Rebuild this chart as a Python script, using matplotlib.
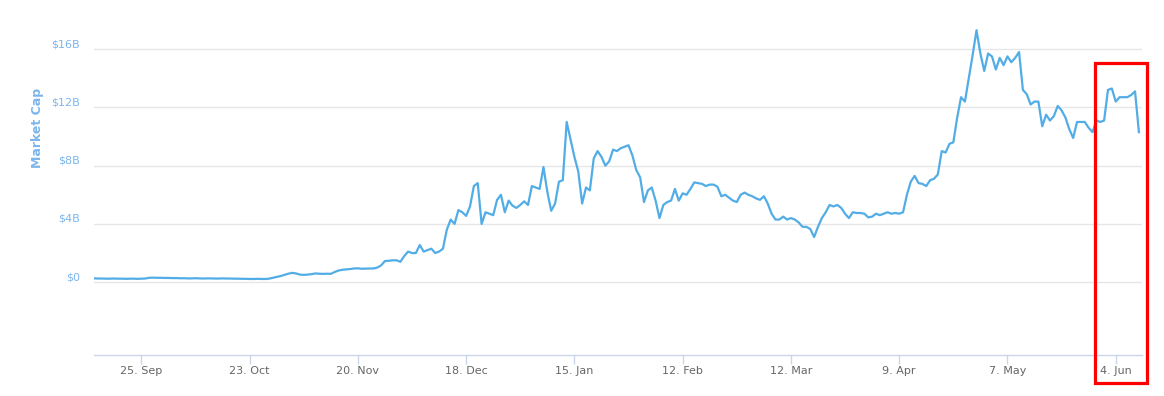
#market cap line chart (daily values) with a red highlight box

import pandas as pd
import numpy as np
from matplotlib import pyplot as plt
from matplotlib import transforms
from matplotlib.patches import Rectangle

#daily market cap in billion USD, starting 13 Sep 2017
start = "2017-09-13"
mcap = [
    0.26, 0.25, 0.25, 0.24, 0.24, 0.25, 0.24, 0.24, 0.23, 0.24,
    0.24, 0.23, 0.24, 0.25, 0.30, 0.31, 0.30, 0.30, 0.29, 0.29,
    0.28, 0.28, 0.27, 0.27, 0.26, 0.26, 0.27, 0.26, 0.25, 0.26,
    0.26, 0.25, 0.25, 0.26, 0.25, 0.25, 0.24, 0.24, 0.23, 0.23,
    0.22, 0.22, 0.23, 0.22, 0.22, 0.24, 0.30, 0.36, 0.42, 0.50,
    0.58, 0.64, 0.60, 0.52, 0.50, 0.52, 0.55, 0.60, 0.58, 0.57,
    0.58, 0.57, 0.70, 0.80, 0.85, 0.88, 0.90, 0.94, 0.95, 0.92,
    0.93, 0.94, 0.94, 1.00, 1.15, 1.45, 1.47, 1.50, 1.50, 1.40,
    1.80, 2.10, 2.00, 2.00, 2.55, 2.10, 2.20, 2.30, 2.00, 2.10,
    2.30, 3.60, 4.30, 4.00, 4.95, 4.80, 4.55, 5.20, 6.60, 6.80,
    4.00, 4.80, 4.70, 4.60, 5.65, 6.00, 4.80, 5.60, 5.25, 5.10,
    5.30, 5.55, 5.30, 6.60, 6.50, 6.40, 7.90, 6.20, 4.90, 5.40,
    6.90, 7.00, 11.0, 9.80, 8.60, 7.60, 5.40, 6.50, 6.30, 8.50,
    9.00, 8.60, 8.00, 8.30, 9.10, 9.00, 9.20, 9.30, 9.40, 8.70,
    7.70, 7.20, 5.50, 6.30, 6.50, 5.60, 4.40, 5.30, 5.50, 5.60,
    6.40, 5.60, 6.10, 6.00, 6.40, 6.85, 6.80, 6.75, 6.60, 6.70,
    6.70, 6.55, 5.90, 6.00, 5.80, 5.60, 5.50, 6.00, 6.15, 6.00,
    5.90, 5.75, 5.65, 5.90, 5.40, 4.70, 4.30, 4.30, 4.50, 4.30,
    4.40, 4.30, 4.10, 3.80, 3.80, 3.65, 3.10, 3.80, 4.40, 4.80,
    5.30, 5.20, 5.30, 5.10, 4.70, 4.40, 4.80, 4.75, 4.75, 4.70,
    4.45, 4.50, 4.70, 4.60, 4.70, 4.80, 4.70, 4.75, 4.70, 4.80,
    6.00, 6.90, 7.30, 6.80, 6.75, 6.60, 7.00, 7.10, 7.40, 9.00,
    8.90, 9.50, 9.60, 11.3, 12.7, 12.4, 14.0, 15.6, 17.3, 15.7,
    14.5, 15.7, 15.5, 14.6, 15.4, 14.9, 15.5, 15.1, 15.4, 15.8,
    13.2, 12.9, 12.2, 12.4, 12.4, 10.7, 11.5, 11.1, 11.4, 12.1,
    11.8, 11.3, 10.5, 9.90, 11.0, 11.0, 11.0, 10.6, 10.3, 11.1,
    11.0, 11.1, 13.2, 13.3, 12.4, 12.7, 12.7, 12.7, 12.85, 13.1,
    10.3,
]
dates = pd.date_range(start, periods=len(mcap), freq="D")

#tick positions and labels
xticks = ["2017-09-25", "2017-10-23", "2017-11-20", "2017-12-18", "2018-01-15",
          "2018-02-12", "2018-03-12", "2018-04-09", "2018-05-07", "2018-06-04"]
yticks = [0, 4, 8, 12, 16]
ylabels = ["$0", "$4B", "$8B", "$12B", "$16B"]

line_col = "#52ade6"
label_col = "#7cb5ec"

fig = plt.figure(figsize=(11.64, 3.96), dpi=100)
ax = fig.add_axes([94/1164, 1-355/396, 1048/1164, 335/396])

ax.plot(dates, mcap, color=line_col, linewidth=1.6, solid_joinstyle="round")

ax.set_ylim(-5, 18)
ax.set_xlim(pd.Timestamp(start) - pd.Timedelta(hours=6), pd.Timestamp(start) + pd.Timedelta(days=270.8))

ax.set_yticks(yticks)
ax.set_yticklabels(ylabels, color=label_col, fontsize=8)
ax.tick_params(axis="y", length=0, pad=10)
ax.yaxis.grid(True, color="#e6e6e6", linewidth=1)
ax.set_axisbelow(True)

tick_dates = pd.to_datetime(xticks)
ax.set_xticks(tick_dates)
ax.set_xticklabels([f"{d.day}. {d.strftime('%b')}" for d in tick_dates], color="#666666", fontsize=8)
ax.tick_params(axis="x", length=6.8, width=1, color="#ccd6eb", pad=1)

for side in ["top", "right", "left"]:
    ax.spines[side].set_visible(False)
ax.spines["bottom"].set_color("#ccd6eb")
ax.spines["bottom"].set_linewidth(1)

#shift y labels a bit above the gridlines
off = transforms.ScaledTranslation(0, 6/100, fig.dpi_scale_trans)
for lab in ax.get_yticklabels():
    lab.set_transform(lab.get_transform() + off)

fig.text(38/1164, 1-128/396, "Market Cap", rotation=90, color=label_col,
         fontsize=9, fontweight="bold", ha="center", va="center")

#red highlight box
box = Rectangle((1095/1164, 1-383/396), 52/1164, 320/396, transform=fig.transFigure,
                fill=False, edgecolor="#ff0000", linewidth=2.3)
fig.patches.append(box)

fig.savefig("out.png", dpi=100)
